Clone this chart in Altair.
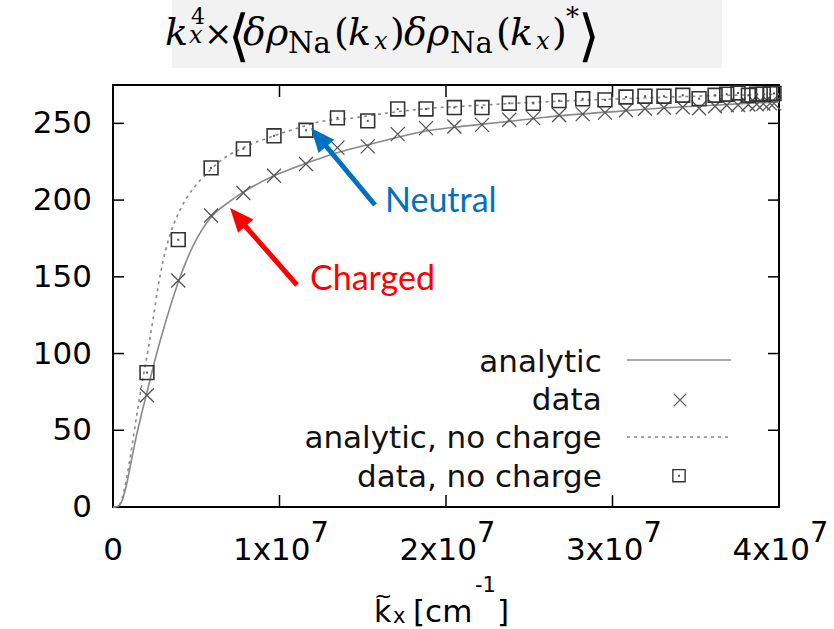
import altair as alt
import pandas as pd

# ---------------- data ----------------
K_DATA_E6 = [2.04, 3.92, 5.89, 7.83, 9.67, 11.59, 13.48, 15.30, 17.10, 18.80,
             20.50, 22.16, 23.80, 25.24, 26.79, 28.21, 29.55, 30.81, 31.95, 33.09,
             34.22, 35.20, 36.16, 36.86, 37.54, 38.16, 38.66, 39.06, 39.46, 39.70]
Y_CHARGED = [72.8, 147.6, 190.0, 204.6, 215.9, 223.5, 234.2, 235.0, 243.0, 246.9,
             248.0, 249.0, 252.3, 253.4, 255.5, 256.0, 257.0, 258.6, 259.5, 260.2,
             260.5, 259.8, 261.2, 261.8, 262.0, 262.3, 262.5, 262.8, 263.0, 263.0]
Y_NEUTRAL = [87.6, 174.2, 221.0, 233.4, 241.9, 245.5, 253.6, 251.6, 259.4, 259.4,
             260.3, 260.3, 263.1, 263.0, 264.8, 266.0, 265.3, 267.2, 267.7, 267.7,
             268.3, 266.1, 268.3, 269.0, 269.8, 268.3, 269.0, 269.0, 269.4, 269.5]

K_CURVE_CHARGED_E6 = [0, 0.3, 0.5, 0.8, 1.1, 1.4, 1.7, 2.0, 2.6, 3.2, 3.9, 4.8, 5.9,
                      7.0, 7.8, 9.7, 11.6, 12.4, 13.5, 15.3, 17.1, 18.8, 20.5, 22.2,
                      24.0, 26.0, 28.0, 30.5, 33.0, 35.5, 38.0, 40.0]
Y_CURVE_CHARGED = [0, 0.5, 3, 14, 30, 46, 60, 73, 99, 122, 146, 170, 189,
                   199, 205, 216, 224, 227, 231, 236, 241, 245, 247.5, 249.5,
                   251.5, 254, 256, 258, 260, 261.5, 263, 264]
K_CURVE_NEUTRAL_E6 = [0, 0.3, 0.5, 0.8, 1.0, 1.2, 1.5, 1.9, 2.1, 2.4, 2.7, 3.0, 3.3,
                      3.6, 4.0, 4.4, 5.0, 5.6, 6.5, 7.8, 9.7, 11.6, 12.4, 14.4, 16.0,
                      17.8, 19.6, 21.4, 24.0, 27.0, 30.0, 33.0, 36.0, 40.0]
Y_CURVE_NEUTRAL = [0, 0.5, 4, 18, 30, 44, 65, 90, 102, 122, 143, 160, 173,
                   183, 193, 201, 210, 217, 226, 234, 242, 248.5, 251, 253.5, 256,
                   258.5, 260.3, 261.4, 263, 264.5, 265.8, 267, 268, 269]

Y_TICKS = [0, 50, 100, 150, 200, 250]
Y_TICK_LABELS = ["0", "50", "100", "150", "200", "250"]
X_TICKS = [0, 1e7, 2e7, 3e7, 4e7]
X_TICK_MAIN = ["0", "1x10", "2x10", "3x10", "4x10"]
X_TICK_SUP = ["", "7", "7", "7", "7"]
LEGEND_LABELS = ["analytic", "data", "analytic, no charge", "data, no charge"]

# ---------------- layout ----------------
W, H = 666, 422
OX, OY = 113, 85
FONT = "DejaVu Sans"
MATH = "DejaVu Serif"
LINE_GRAY = "#8a8a8a"

xs = alt.Scale(domain=[0, 4e7], nice=False, zero=False)
ys = alt.Scale(domain=[0, 275], nice=False)

pts = pd.DataFrame({"k": [v * 1e6 for v in K_DATA_E6],
                    "charged": Y_CHARGED, "neutral": Y_NEUTRAL})
cc = pd.DataFrame({"k": [v * 1e6 for v in K_CURVE_CHARGED_E6], "v": Y_CURVE_CHARGED})
cn = pd.DataFrame({"k": [v * 1e6 for v in K_CURVE_NEUTRAL_E6], "v": Y_CURVE_NEUTRAL})
yt = pd.DataFrame({"v": Y_TICKS, "lab": Y_TICK_LABELS})
xt = pd.DataFrame({"k": X_TICKS, "main": X_TICK_MAIN, "sup": X_TICK_SUP})
one = pd.DataFrame({"_": [0]})

X = lambda f: alt.X(f, scale=xs, axis=None)
Y = lambda f: alt.Y(f, scale=ys, axis=None)

CROSS = "M-1,-1L1,1M-1,1L1,-1"
layers = []

# title background box
layers.append(alt.Chart(one).mark_rect(color="#f2f2f2").encode(
    x=alt.value(172 - OX), x2=alt.value(722 - OX),
    y=alt.value(0 - OY), y2=alt.value(68 - OY)))

# y ticks (inward, left & right) and labels
layers.append(alt.Chart(yt).mark_rule(color="black", strokeWidth=1.5).encode(
    y=Y("v:Q"), x=alt.value(0), x2=alt.value(11)))
layers.append(alt.Chart(yt).mark_rule(color="black", strokeWidth=1.5).encode(
    y=Y("v:Q"), x=alt.value(W - 11), x2=alt.value(W)))
layers.append(alt.Chart(yt).mark_text(font=FONT, fontSize=31, align="right", baseline="middle",
                                      dy=1, color="black").encode(
    y=Y("v:Q"), x=alt.value(-21), text="lab:N"))
# x ticks (inward, bottom & top)
layers.append(alt.Chart(xt).mark_rule(color="black", strokeWidth=1.5).encode(
    x=X("k:Q"), y=alt.value(H - 12), y2=alt.value(H)))
layers.append(alt.Chart(xt).mark_rule(color="black", strokeWidth=1.5).encode(
    x=X("k:Q"), y=alt.value(0), y2=alt.value(12)))

# x tick labels
layers.append(alt.Chart(xt).transform_filter("datum.k == 0").mark_text(
    font=FONT, fontSize=31, align="center", baseline="alphabetic", color="black").encode(
    x=X("k:Q"), y=alt.value(474.5), text="main:N"))
layers.append(alt.Chart(xt).transform_filter("datum.k > 0").mark_text(
    font=FONT, fontSize=31, align="right", baseline="alphabetic", dx=31, color="black").encode(
    x=X("k:Q"), y=alt.value(474.5), text="main:N"))
layers.append(alt.Chart(xt).transform_filter("datum.k > 0").mark_text(
    font=FONT, fontSize=29, align="left", baseline="alphabetic", dx=31, color="black").encode(
    x=X("k:Q"), y=alt.value(456.5), text="sup:N"))

# curves
layers.append(alt.Chart(cc).mark_line(color=LINE_GRAY, strokeWidth=1.6, interpolate="monotone").encode(
    x=X("k:Q"), y=Y("v:Q")))
layers.append(alt.Chart(cn).mark_line(color=LINE_GRAY, strokeWidth=1.6, strokeDash=[3, 4],
                                      interpolate="monotone").encode(x=X("k:Q"), y=Y("v:Q")))

# data points
layers.append(alt.Chart(pts).mark_point(shape=CROSS, size=196, filled=False, color="#555555",
                                        strokeWidth=1.3, opacity=1).encode(
    x=X("k:Q"), y=Y("charged:Q")))
layers.append(alt.Chart(pts).mark_point(shape="square", size=190, filled=False, color="#333333",
                                        strokeWidth=1.6, opacity=1).encode(
    x=X("k:Q"), y=Y("neutral:Q")))
layers.append(alt.Chart(pts).mark_point(shape="square", size=4, filled=True, color="#555555",
                                        opacity=1).encode(x=X("k:Q"), y=Y("neutral:Q")))

# legend
leg_base = [286.7, 325.0, 363.3, 401.7]
for lab, yb in zip(LEGEND_LABELS, leg_base):
    layers.append(alt.Chart(one).mark_text(text=lab, font=FONT, fontSize=31, align="right",
                                           baseline="alphabetic", color="#111111").encode(
        x=alt.value(488.7), y=alt.value(yb)))
layers.append(alt.Chart(one).mark_rule(color=LINE_GRAY, strokeWidth=1.6).encode(
    x=alt.value(514), x2=alt.value(618), y=alt.value(275)))
layers.append(alt.Chart(one).mark_point(shape=CROSS, size=150, filled=False, color="#555555",
                                        strokeWidth=1.2, opacity=1).encode(
    x=alt.value(567), y=alt.value(315)))
layers.append(alt.Chart(one).mark_rule(color=LINE_GRAY, strokeWidth=1.6, strokeDash=[3, 4]).encode(
    x=alt.value(514), x2=alt.value(616), y=alt.value(352)))
layers.append(alt.Chart(one).mark_point(shape="square", size=150, filled=False, color="#333333",
                                        strokeWidth=1.4, opacity=1).encode(
    x=alt.value(566), y=alt.value(390.7)))
layers.append(alt.Chart(one).mark_point(shape="square", size=4, filled=True, color="#555555",
                                        opacity=1).encode(x=alt.value(566), y=alt.value(390.7)))

# arrows + annotation text
HEAD = "M0,-1L0.85,1L-0.85,1Z"
ARROWS = [  # tail(x,y), body end(x,y), head centre(x,y), angle, colour
    ((375, 205), (321, 140), (318.7, 137.2), 320, "#0070C0"),
    ((297, 285), (240, 220), (237.9, 217.1), 319, "#FF0000"),
]
for (tx, ty), (bx, by), (hx, hy), ang, col in ARROWS:
    layers.append(alt.Chart(one).mark_rule(color=col, strokeWidth=5).encode(
        x=alt.value(tx - OX), y=alt.value(ty - OY), x2=alt.value(bx - OX), y2=alt.value(by - OY)))
    layers.append(alt.Chart(one).mark_point(shape=HEAD, size=576, filled=True, color=col,
                                            opacity=1, angle=ang).encode(
        x=alt.value(hx - OX), y=alt.value(hy - OY)))
layers.append(alt.Chart(one).mark_text(text="Neutral", font="Lato", fontSize=34, align="left",
                                       baseline="alphabetic", color="#0070C0").encode(
    x=alt.value(385 - OX), y=alt.value(211.7 - OY)))
layers.append(alt.Chart(one).mark_text(text="Charged", font="Lato", fontSize=34, align="left",
                                       baseline="alphabetic", color="#FF0000").encode(
    x=alt.value(310 - OX), y=alt.value(290 - OY)))

# x axis title: k~_x [cm^-1]
XT_PIECES = [("k", 374, 621.7, 30), ("~", 374, 603, 22), ("x", 393, 623, 21),
             ("[cm", 413, 621.7, 31), ("-1", 475, 592, 21), ("]", 497, 621.7, 31)]
for t, px, py, fs in XT_PIECES:
    layers.append(alt.Chart(one).mark_text(text=t, font=FONT, fontSize=fs, align="left",
                                           baseline="alphabetic", color="black").encode(
        x=alt.value(px - OX), y=alt.value(py - OY)))

# chart title (math)
TITLE_PIECES = [
    ("k", 165, 45, 38, "italic", MATH), ("4", 191, 24, 22, "normal", MATH),
    ("x", 189, 43, 24, "italic", MATH), ("\u00d7", 204, 45, 34, "normal", MATH),
    ("\u27e8", 228, 55, 56, "normal", FONT), ("\u03b4\u03c1", 243, 45, 38, "italic", MATH),
    ("Na", 288, 53, 29, "normal", MATH), ("(", 334, 45, 38, "normal", MATH),
    ("k", 348, 45, 38, "italic", MATH), ("x", 374, 49, 24, "italic", MATH),
    (")", 390, 45, 38, "normal", MATH), ("\u03b4\u03c1", 404, 45, 38, "italic", MATH),
    ("Na", 450, 53, 29, "normal", MATH), ("(", 496, 45, 38, "normal", MATH),
    ("k", 510, 45, 38, "italic", MATH), ("x", 536, 49, 24, "italic", MATH),
    (")", 552, 45, 38, "normal", MATH), ("*", 566, 26, 26, "normal", MATH),
    ("\u27e9", 578, 55, 56, "normal", FONT),
]
for t, px, py, fs, st, fn in TITLE_PIECES:
    layers.append(alt.Chart(one).mark_text(text=t, font=fn, fontSize=fs, fontStyle=st, align="left",
                                           baseline="alphabetic", color="black").encode(
        x=alt.value(px - OX), y=alt.value(py - OY)))

chart = alt.layer(*layers).properties(
    width=W, height=H,
    autosize=alt.AutoSizeParams(type="none"),
    padding={"left": OX, "top": OY, "right": 834 - OX - W, "bottom": 629 - OY - H},
    background="white",
).configure_view(stroke="black", strokeWidth=2)

chart.save("out.html", embed_options={"renderer": "svg", "actions": False})
